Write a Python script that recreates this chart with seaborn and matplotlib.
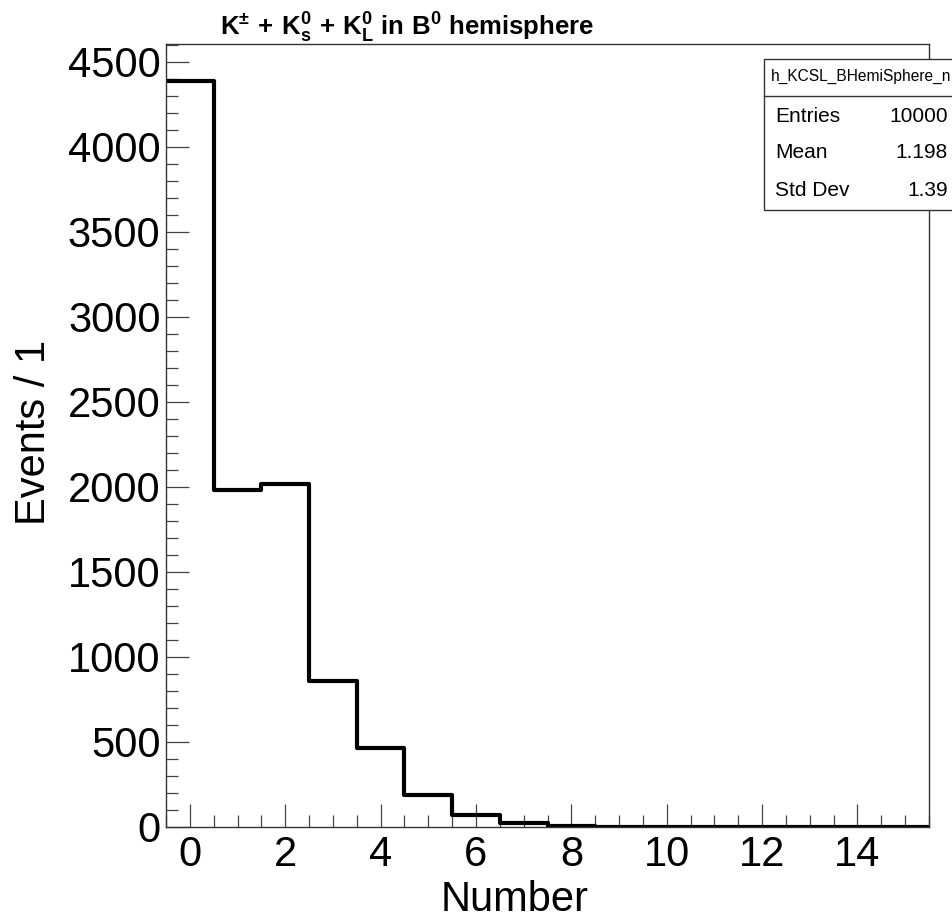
import numpy as np
import pandas as pd
import matplotlib
matplotlib.use("Agg")
import matplotlib.pyplot as plt
from matplotlib.patches import Rectangle
from matplotlib.lines import Line2D
from matplotlib.ticker import MultipleLocator
import seaborn as sns

# Kaon multiplicity in the B0 hemisphere (bin centre -> events)
n_kaons = list(range(16))
events = [4385, 1980, 2015, 860, 465, 190, 70, 25, 7, 2, 1, 0, 0, 0, 0, 0]

stat_name = "h_KCSL_BHemiSphere_n"
stat_labels = ["Entries", "Mean", "Std Dev"]
stat_values = ["10000", "1.198", "1.39"]

sns.set_theme(style="white")
plt.rcParams["font.family"] = ["Liberation Sans", "DejaVu Sans"]
plt.rcParams["text.color"] = "black"
plt.rcParams["axes.labelcolor"] = "black"
plt.rcParams["mathtext.fontset"] = "custom"
plt.rcParams["mathtext.rm"] = "Liberation Sans:bold"
plt.rcParams["mathtext.it"] = "Liberation Sans:bold"
plt.rcParams["mathtext.bf"] = "Liberation Sans:bold"
plt.rcParams["mathtext.default"] = "rm"

df = pd.DataFrame({"n": n_kaons, "events": events})

W, H = 952, 921
fig = plt.figure(figsize=(W / 100, H / 100), dpi=100)
ax = fig.add_axes([166 / W, 1 - 827 / H, (929 - 166) / W, (827 - 44) / H])

sns.histplot(data=df, x="n", weights="events", bins=16, binrange=(-0.5, 15.5),
             element="step", fill=False, color="black", linewidth=3.0, ax=ax)

ax.set_xlim(-0.5, 15.5)
ax.set_ylim(0, 1.05 * max(events))

ax.xaxis.set_major_locator(MultipleLocator(2))
ax.xaxis.set_minor_locator(MultipleLocator(0.5))
ax.yaxis.set_major_locator(MultipleLocator(500))
ax.yaxis.set_minor_locator(MultipleLocator(100))
ax.tick_params(axis="both", which="both", direction="in", color="#444444",
               width=0.9, top=False, right=False, bottom=True, left=True,
               labelsize=30, labelcolor="black")
ax.tick_params(axis="x", which="major", length=16.5, pad=6)
ax.tick_params(axis="x", which="minor", length=8.5)
ax.tick_params(axis="y", which="major", length=16.5, pad=4)
ax.tick_params(axis="y", which="minor", length=8.5)

for s in ax.spines.values():
    s.set_color("#333333")
    s.set_linewidth(1.0)

ax.set_xlabel("")
ax.set_ylabel("")
fig.text(515 / W, 1 - 900 / H, "Number", ha="center", va="center", fontsize=30,
         color="black")
fig.text(34 / W, 1 - 432 / H, "Events / 1", ha="center", va="center",
         rotation=90, fontsize=30, color="black")

fig.text(407 / W, 1 - 28 / H,
         r"$\mathrm{K}^{\pm}\,+\,\mathrm{K}^{0}_{s}\,+\,\mathrm{K}^{0}_{L}\ \mathrm{in}\ \mathrm{B}^{0}\ \mathrm{hemisphere}$",
         ha="center", va="center", fontsize=18.5, color="black")

# statistics box, running off the right edge of the canvas
bx0, by0, by1, byh = 764, 59, 210, 96
fig.patches.append(Rectangle((bx0 / W, 1 - by1 / H), (W + 20 - bx0) / W, (by1 - by0) / H,
                             transform=fig.transFigure, facecolor="white",
                             edgecolor="#333333", linewidth=1.0, zorder=5))
fig.lines.append(Line2D([bx0 / W, 1.0], [1 - byh / H, 1 - byh / H],
                        transform=fig.transFigure, color="#333333", linewidth=1.0, zorder=6))
fig.text(771 / W, 1 - 76 / H, stat_name, ha="left", va="center", fontsize=11.2,
         zorder=7)
for i, (lab, val) in enumerate(zip(stat_labels, stat_values)):
    y = 1 - (116 + 37 * i) / H
    fig.text(775 / W, y, lab, ha="left", va="center", fontsize=15, zorder=7)
    fig.text(948 / W, y, val, ha="right", va="center", fontsize=15, zorder=7)

fig.savefig("out.png", dpi=100, facecolor="white")
